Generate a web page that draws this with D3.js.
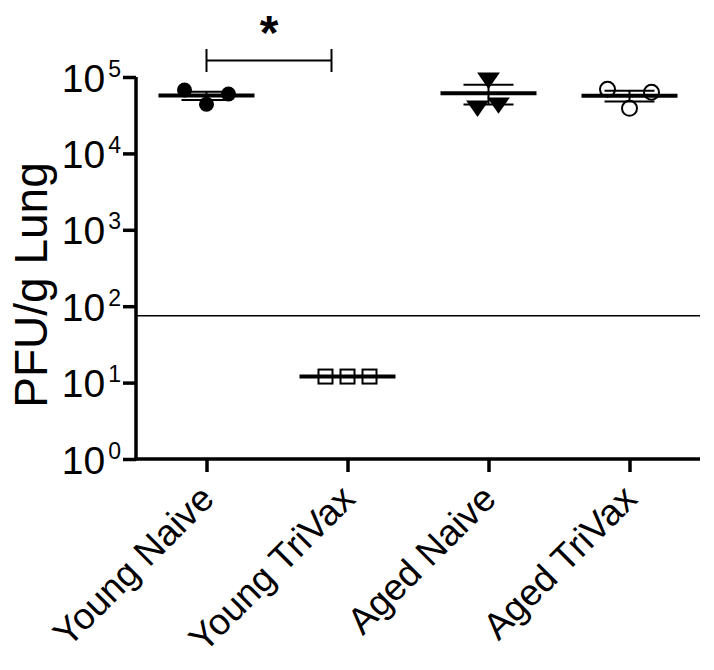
<!DOCTYPE html>
<html>
<head>
<meta charset="utf-8">
<script src="https://cdn.jsdelivr.net/npm/d3@7"></script>
<style>
  body { margin: 0; background: #fff; }
  text { font-family: "Liberation Sans", Arial, sans-serif; fill: #000; }
</style>
</head>
<body>
<div id="chart"></div>
<script>
// groups on the x axis
var groups = ["Young Naive", "Young TriVax", "Aged Naive", "Aged TriVax"];
// PFU per gram lung, one value per mouse
var youngNaive  = [67600, 43900, 59900];
var youngTriVax = [12, 12, 12];
var agedNaive   = [97000, 41700, 45700];
var agedTriVax  = [69000, 38900, 63100];
var yTicks = [1, 10, 100, 1000, 10000, 100000];
var detectionLimit = 75;
var significance = { from: "Young Naive", to: "Young TriVax", label: "*" };

var series = [
  { name: groups[0], values: youngNaive,  symbol: "dot" },
  { name: groups[1], values: youngTriVax, symbol: "square" },
  { name: groups[2], values: agedNaive,   symbol: "triangle" },
  { name: groups[3], values: agedTriVax,  symbol: "ring" }
];
// horizontal scatter of the points inside a column
var spread = {
  "Young Naive":  [-22, 0, 22],
  "Young TriVax": [-22, 0, 22],
  "Aged Naive":   [0, -11, 10],
  "Aged TriVax":  [-22, 0, 22]
};

var width = 714, height = 670;
var svg = d3.select("#chart").append("svg")
  .attr("width", width)
  .attr("height", height);

var x = d3.scalePoint().domain(groups).range([136, 700]).padding(0.5);
var y = d3.scaleLog().domain([1, 100000]).range([459, 77]);

// y axis
var yAxis = svg.append("g").attr("transform", "translate(136,0)")
  .call(d3.axisLeft(y).tickValues(yTicks).tickSize(13).tickFormat(""));
yAxis.select(".domain").attr("stroke-width", 3.5).attr("d", "M0," + (y(1) + 1.5) + "V" + y(100000));
yAxis.selectAll(".tick line").attr("stroke-width", 3.5);
var yLab = yAxis.selectAll(".tick").append("text")
  .attr("x", -15)
  .attr("y", 0)
  .attr("text-anchor", "end");
yLab.append("tspan").attr("dy", 14).style("font-size", "39px").text("10");
yLab.append("tspan").attr("dx", 3).attr("dy", -15).style("font-size", "23px")
  .text(function (d) { return Math.round(Math.log10(d)); });

// x axis
var xAxis = svg.append("g").attr("transform", "translate(0," + y(1) + ")")
  .call(d3.axisBottom(x).tickSize(13).tickFormat(""));
xAxis.select(".domain").attr("stroke-width", 3.5).attr("d", "M134.5,0H700");
xAxis.selectAll(".tick line").attr("stroke-width", 3.5);
xAxis.selectAll(".tick").append("text")
  .attr("transform", "translate(9,42) rotate(-45)")
  .attr("text-anchor", "end")
  .style("font-size", "37px")
  .text(function (d) { return d; });

// y title
svg.append("text")
  .attr("transform", "translate(47," + 285 + ") rotate(-90)")
  .attr("text-anchor", "middle")
  .style("font-size", "46px")
  .text("PFU/g Lung");

// limit of detection
svg.append("line")
  .attr("x1", 136).attr("x2", 700)
  .attr("y1", y(detectionLimit)).attr("y2", y(detectionLimit))
  .attr("stroke", "#000").attr("stroke-width", 1.6);

// points
var tri = d3.symbol().type(d3.symbolTriangle).size(170);
series.forEach(function (s) {
  var g = svg.append("g");
  s.values.forEach(function (v, i) {
    var px = x(s.name) + spread[s.name][i], py = y(v);
    if (s.symbol === "dot") {
      g.append("circle").attr("cx", px).attr("cy", py).attr("r", 7.5).attr("fill", "#000");
    } else if (s.symbol === "ring") {
      g.append("circle").attr("cx", px).attr("cy", py).attr("r", 7.5)
        .attr("fill", "none").attr("stroke", "#000").attr("stroke-width", 2);
    } else if (s.symbol === "square") {
      g.append("rect").attr("x", px - 7).attr("y", py - 7).attr("width", 14).attr("height", 14)
        .attr("fill", "none").attr("stroke", "#000").attr("stroke-width", 2);
    } else {
      g.append("path").attr("d", tri)
        .attr("transform", "translate(" + px + "," + py + ") rotate(180) scale(1.15,0.95)")
        .attr("fill", "#000");
    }
  });

  // mean and SEM
  var m = d3.mean(s.values);
  var sem = d3.deviation(s.values) / Math.sqrt(s.values.length);
  var cx = x(s.name);
  g.append("line").attr("x1", cx - 48).attr("x2", cx + 48)
    .attr("y1", y(m)).attr("y2", y(m))
    .attr("stroke", "#000").attr("stroke-width", 4);
  if (sem > 0) {
    [m + sem, m - sem].forEach(function (e) {
      g.append("line").attr("x1", cx - 25).attr("x2", cx + 25)
        .attr("y1", y(e)).attr("y2", y(e))
        .attr("stroke", "#000").attr("stroke-width", 2);
    });
    g.append("line").attr("x1", cx).attr("x2", cx)
      .attr("y1", y(m + sem)).attr("y2", y(m - sem))
      .attr("stroke", "#000").attr("stroke-width", 2);
  }
});

// significance bracket
var bx1 = x(significance.from), bx2 = x(significance.to) - 16;
var br = svg.append("g").attr("stroke", "#000").attr("stroke-width", 2).attr("fill", "none");
br.append("line").attr("x1", bx1).attr("x2", bx2).attr("y1", 60.5).attr("y2", 60.5);
br.append("line").attr("x1", bx1).attr("x2", bx1).attr("y1", 49).attr("y2", 72);
br.append("line").attr("x1", bx2).attr("x2", bx2).attr("y1", 49).attr("y2", 72);
svg.append("text")
  .attr("x", (bx1 + bx2) / 2).attr("y", 49)
  .attr("text-anchor", "middle")
  .style("font-size", "48px").style("font-weight", "bold")
  .text(significance.label);
</script>
</body>
</html>
